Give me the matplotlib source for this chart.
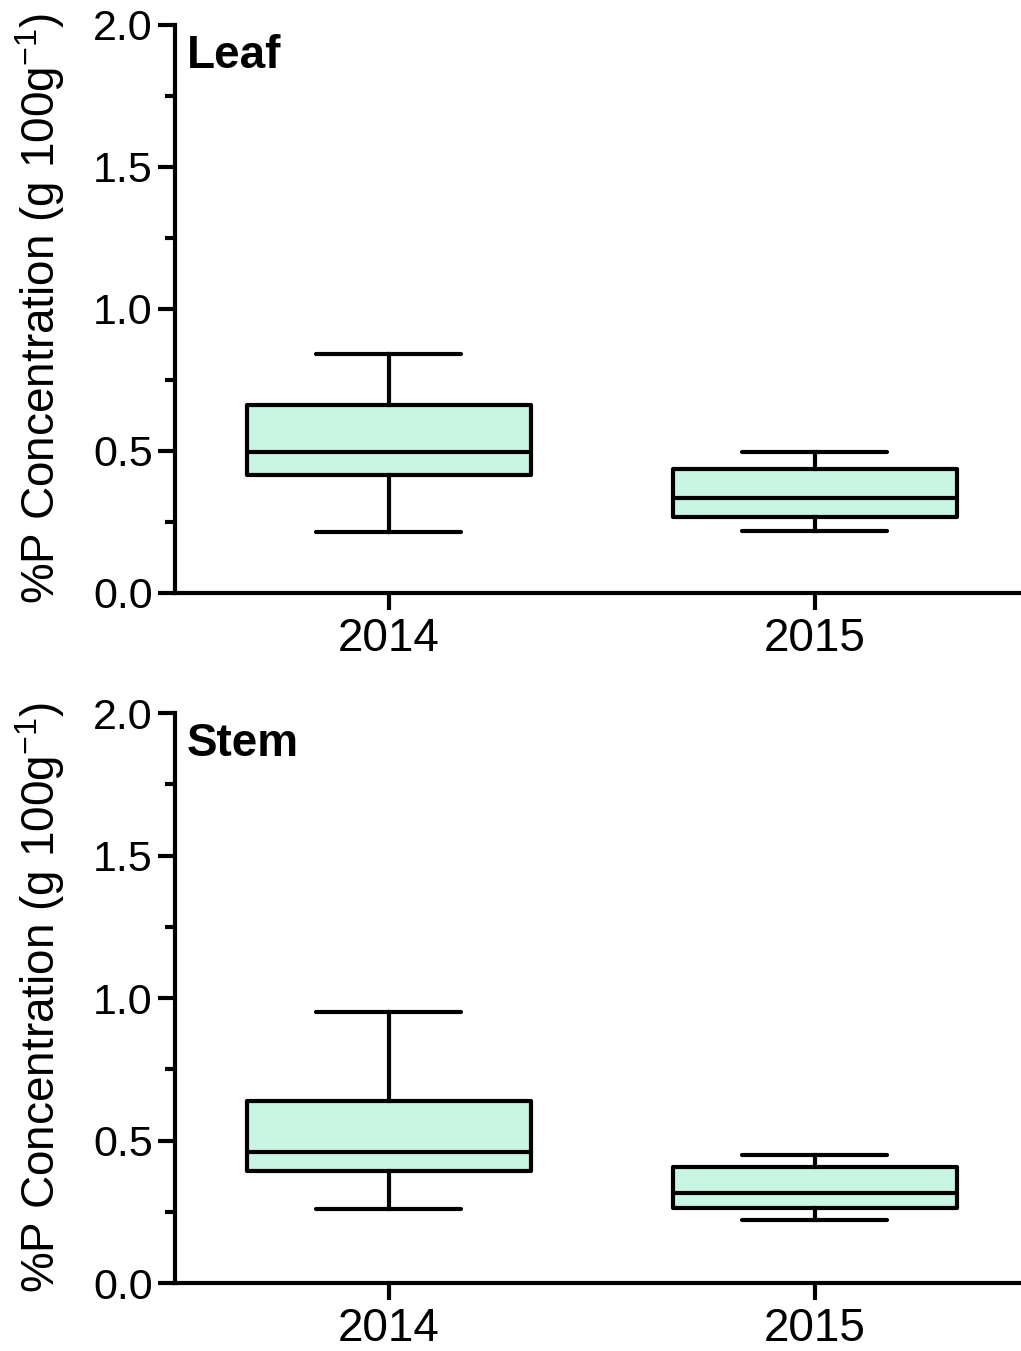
import matplotlib
matplotlib.use("Agg")
import matplotlib.pyplot as plt
from matplotlib.ticker import MultipleLocator

plt.rcParams['font.family'] = ['Liberation Sans', 'DejaVu Sans']
plt.rcParams['mathtext.fontset'] = 'custom'
plt.rcParams['mathtext.rm'] = 'Liberation Sans'
plt.rcParams['mathtext.it'] = 'Liberation Sans:italic'
plt.rcParams['mathtext.bf'] = 'Liberation Sans:bold'

years = ["2014", "2015"]

# Leaf box stats: whisker low, Q1, median, Q3, whisker high
leaf_low = [0.215, 0.218]
leaf_q1 = [0.415, 0.268]
leaf_med = [0.496, 0.335]
leaf_q3 = [0.662, 0.437]
leaf_high = [0.842, 0.496]

# Stem box stats
stem_low = [0.260, 0.221]
stem_q1 = [0.393, 0.263]
stem_med = [0.460, 0.316]
stem_q3 = [0.639, 0.407]
stem_high = [0.951, 0.449]

panels = ["Leaf", "Stem"]
fill = '#c9f5e3'
lw = 3.0

fig = plt.figure(figsize=(10.21, 13.51), dpi=100)
ax_top = fig.add_axes([0.1714, 0.5611, 0.8286, 0.4204])
ax_bot = fig.add_axes([0.1714, 0.0503, 0.8286, 0.4219])

data = [
    (leaf_low, leaf_q1, leaf_med, leaf_q3, leaf_high),
    (stem_low, stem_q1, stem_med, stem_q3, stem_high),
]

for ax, name, (lo, q1, med, q3, hi) in zip([ax_top, ax_bot], panels, data):
    stats = []
    for i, y in enumerate(years):
        stats.append(dict(label=y, whislo=lo[i], q1=q1[i], med=med[i],
                          q3=q3[i], whishi=hi[i], fliers=[]))
    ax.bxp(stats, positions=[1, 2], widths=0.667, capwidths=0.34,
           showfliers=False, patch_artist=True,
           boxprops=dict(facecolor=fill, edgecolor='black', linewidth=lw,
                         joinstyle='round'),
           medianprops=dict(color='black', linewidth=lw),
           whiskerprops=dict(color='black', linewidth=lw),
           capprops=dict(color='black', linewidth=lw, solid_capstyle='round'))
    ax.set_xlim(0.498, 2.484)
    ax.set_ylim(0, 2.0)
    ax.yaxis.set_major_locator(MultipleLocator(0.5))
    ax.yaxis.set_minor_locator(MultipleLocator(0.25))
    ax.yaxis.set_major_formatter(matplotlib.ticker.FormatStrFormatter('%.1f'))
    ax.set_xticks([1, 2])
    ax.set_xticklabels(years)
    for s in ['top', 'right']:
        ax.spines[s].set_visible(False)
    for s in ['left', 'bottom']:
        ax.spines[s].set_linewidth(lw)
    ax.tick_params(axis='both', which='major', length=12, width=lw, direction='out')
    ax.tick_params(axis='y', which='minor', length=7, width=lw, direction='out')
    ax.tick_params(axis='y', labelsize=31, pad=4)
    ax.tick_params(axis='x', labelsize=33, pad=5)
    ax.set_ylabel(r'%P Concentration (g 100g$^{-1}$)', fontsize=33)
    ax.yaxis.set_label_coords(-0.128, 0.5)
    ax.text(0.014, 0.925, name, transform=ax.transAxes, fontsize=33,
            fontweight='bold', va='baseline', ha='left')

fig.savefig('out.png', dpi=100)
